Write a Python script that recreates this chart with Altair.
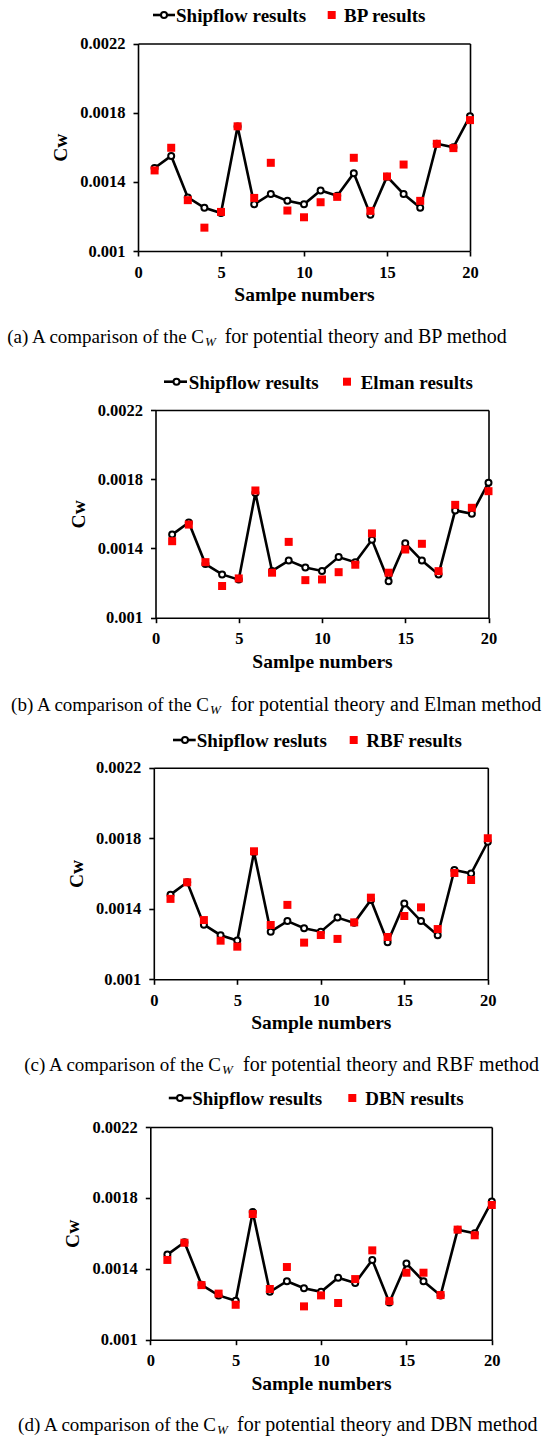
import altair as alt
import pandas as pd

# ---------------- data ----------------
samples = list(range(1, 21))
shipflow = [0.00148, 0.00155, 0.00131, 0.00125, 0.00122, 0.00172, 0.00127, 0.00133, 0.00129, 0.00127,
            0.00135, 0.00132, 0.00145, 0.00121, 0.00143, 0.00133, 0.00125, 0.00162, 0.00160, 0.00178]
bp = [0.001466, 0.001597, 0.001294, 0.001135, 0.001226, 0.001721, 0.001307, 0.00151, 0.001234, 0.001195,
      0.001282, 0.001313, 0.001539, 0.001232, 0.001431, 0.0015, 0.00129, 0.00162, 0.001595, 0.001757]
elman = [0.001442, 0.001538, 0.001321, 0.001183, 0.001227, 0.001735, 0.00126, 0.001438, 0.001217, 0.001221,
         0.001263, 0.001306, 0.001487, 0.00126, 0.001394, 0.001427, 0.001269, 0.001652, 0.001635, 0.001731]
rbf = [0.001456, 0.00155, 0.001336, 0.001219, 0.001185, 0.001726, 0.001308, 0.001422, 0.001208, 0.001251,
       0.001229, 0.001323, 0.001463, 0.00124, 0.001359, 0.001408, 0.001285, 0.001603, 0.001563, 0.0018]
dbn = [0.00145, 0.001547, 0.001308, 0.00126, 0.001197, 0.001709, 0.001286, 0.00141, 0.001188, 0.00125,
       0.001207, 0.001342, 0.001504, 0.001218, 0.001378, 0.001378, 0.001252, 0.001621, 0.001589, 0.00176]

x_ticks = [0, 5, 10, 15, 20]
y_ticks = [0.001, 0.0014, 0.0018, 0.0022]

ship_labels = ["Shipflow results", "Shipflow results", "Shipflow resluts", "Shipflow results"]
method_labels = ["BP results", "Elman results", "RBF results", "DBN results"]
x_titles = ["Samlpe numbers", "Samlpe numbers", "Sample numbers", "Sample numbers"]
caption_heads = ["(a) A comparison of the C", "(b) A comparison of the C",
                 "(c) A comparison of the C", "(d) A comparison of the C"]
caption_tails = ["for potential theory and BP method", "for potential theory and Elman method",
                 "for potential theory and RBF method", "for potential theory and DBN method"]
method_values = [bp, elman, rbf, dbn]

SERIF = "Liberation Serif"
TOTAL_W, TOTAL_H = 548, 1440

# page layout of each panel (absolute pixels): plot box, legend row, caption row
geoms = [
    dict(left=138, top=43.5, w=332, h=207.5,
         leg_y=15, l1=153, l2=175, lc=164, lt=176, sq=331.7, st=344,
         cap_y=337, head_end=204, w_x=205, tail_x=224.7),
    dict(left=155.5, top=410, w=333, h=207.7,
         leg_y=381.7, l1=164, l2=187, lc=176.5, lt=188.7, sq=347, st=360.7,
         cap_y=705, head_end=209, w_x=210, tail_x=230.7),
    dict(left=153.8, top=767.7, w=334, h=211.6,
         leg_y=740, l1=173, l2=195.7, lc=185, lt=196.8, sq=353.7, st=366.3,
         cap_y=1065, head_end=221, w_x=222, tail_x=243),
    dict(left=150.3, top=1127, w=341.5, h=212.7,
         leg_y=1098, l1=168.8, l2=191.5, lc=180, lt=192.2, sq=352.3, st=365.2,
         cap_y=1425, head_end=216, w_x=217, tail_x=237),
]

one = alt.Data(values=[{"k": 1}])
layers = []

for i in range(4):
    g = geoms[i]
    L, T, W, H = g["left"], g["top"], g["w"], g["h"]
    df = pd.DataFrame({"sample": samples, "shipflow": shipflow, "method": method_values[i]})
    xs = alt.Scale(domain=[0, 20], range=[L, L + W], nice=False, zero=False)
    ys = alt.Scale(domain=[0.001, 0.0022], range=[T + H, T], nice=False, zero=False)
    base = alt.Chart(df)

    # line with the main (labelled) axes
    line = base.mark_line(color="black", strokeWidth=2.6).encode(
        x=alt.X("sample:Q", scale=xs,
                axis=alt.Axis(values=x_ticks, title=x_titles[i], orient="bottom",
                              offset=T + H - TOTAL_H, labelFlush=False, titlePadding=5)),
        y=alt.Y("shipflow:Q", scale=ys,
                axis=alt.Axis(values=y_ticks, format=".4~f", title="Cw", orient="left",
                              offset=-L, titlePadding=9)),
    )
    # open circles, carrying the top/right frame lines
    circles = base.mark_point(shape="circle", filled=True, fill="white", stroke="black",
                              strokeWidth=2, size=36, opacity=1).encode(
        x=alt.X("sample:Q", scale=xs,
                axis=alt.Axis(orient="top", offset=-T, labels=False, ticks=False, title=None)),
        y=alt.Y("shipflow:Q", scale=ys,
                axis=alt.Axis(orient="right", offset=L + W - TOTAL_W, labels=False, ticks=False,
                              title=None)),
    )
    squares = base.mark_square(color="#ff0000", size=64, opacity=1).encode(
        x=alt.X("sample:Q", scale=xs, axis=None),
        y=alt.Y("method:Q", scale=ys, axis=None),
    )
    layers += [line, circles, squares]

    # legend row
    ly = g["leg_y"]
    layers += [
        alt.Chart(one).mark_rule(color="black", strokeWidth=2.6).encode(
            x=alt.value(g["l1"]), x2=alt.value(g["l2"]), y=alt.value(ly)),
        alt.Chart(one).mark_point(shape="circle", filled=True, fill="white", stroke="black",
                                  strokeWidth=2, size=36, opacity=1).encode(
            x=alt.value(g["lc"]), y=alt.value(ly)),
        alt.Chart(one).mark_text(text=ship_labels[i], align="left", baseline="middle",
                                 font=SERIF, fontSize=19, fontWeight="bold", color="black").encode(
            x=alt.value(g["lt"]), y=alt.value(ly + 1)),
        alt.Chart(one).mark_square(color="#ff0000", size=64, opacity=1).encode(
            x=alt.value(g["sq"]), y=alt.value(ly)),
        alt.Chart(one).mark_text(text=method_labels[i], align="left", baseline="middle",
                                 font=SERIF, fontSize=19, fontWeight="bold", color="black").encode(
            x=alt.value(g["st"]), y=alt.value(ly + 1)),
    ]

    # caption with italic subscript W
    cb = g["cap_y"] + 6
    layers += [
        alt.Chart(one).mark_text(text=caption_heads[i], align="right", baseline="alphabetic",
                                 font=SERIF, fontSize=19, color="black").encode(
            x=alt.value(g["head_end"]), y=alt.value(cb)),
        alt.Chart(one).mark_text(text="W", align="left", baseline="alphabetic",
                                 font=SERIF, fontSize=13, fontStyle="italic", color="black").encode(
            x=alt.value(g["w_x"]), y=alt.value(cb + 3)),
        alt.Chart(one).mark_text(text=caption_tails[i], align="left", baseline="alphabetic",
                                 font=SERIF, fontSize=20, color="black").encode(
            x=alt.value(g["tail_x"]), y=alt.value(cb)),
    ]

chart = alt.layer(*layers).resolve_scale(
    x="independent", y="independent"
).properties(
    width=TOTAL_W, height=TOTAL_H, padding=0, background="white",
    autosize=alt.AutoSizeParams(type="none"),
).configure_view(
    strokeWidth=0
).configure_axis(
    grid=False,
    domainColor="black", domainWidth=1.6,
    tickColor="black", tickWidth=1.6, tickSize=5,
    labelFont=SERIF, labelFontWeight="bold", labelFontSize=16.5, labelColor="black",
    titleFont=SERIF, titleFontWeight="bold", titleFontSize=19.5, titleColor="black",
    labelPadding=8,
)

chart.save("out.html", embed_options={"renderer": "svg", "actions": False})
